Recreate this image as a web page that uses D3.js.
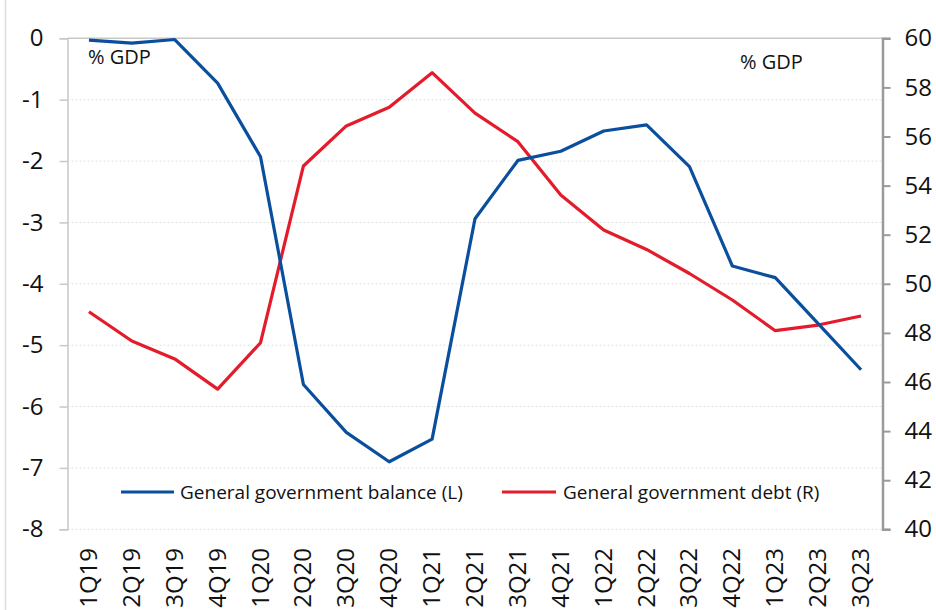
<!DOCTYPE html>
<html>
<head>
<meta charset="utf-8">
<script src="https://cdn.jsdelivr.net/npm/d3@7"></script>
<style>
  html, body { margin: 0; padding: 0; background: #fff; }
  svg { display: block; }
  text { font-family: "Open Sans", "Noto Sans", sans-serif; fill: #111; }
</style>
</head>
<body>
<svg id="chart" width="936" height="610"></svg>
<script>
const categories = ["1Q19","2Q19","3Q19","4Q19","1Q20","2Q20","3Q20","4Q20","1Q21","2Q21","3Q21","4Q21","1Q22","2Q22","3Q22","4Q22","1Q23","2Q23","3Q23"];
const balance = [-0.03,-0.08,-0.02,-0.73,-1.93,-5.64,-6.42,-6.90,-6.53,-2.94,-1.99,-1.84,-1.51,-1.41,-2.09,-3.71,-3.90,-4.65,-5.40];
const debt = [48.86,47.67,46.94,45.71,47.60,54.80,56.43,57.19,58.60,56.95,55.79,53.62,52.19,51.40,50.42,49.34,48.09,48.32,48.69];
const leftTicks = [0,-1,-2,-3,-4,-5,-6,-7,-8];
const rightTicks = [60,58,56,54,52,50,48,46,44,42,40];
const seriesNames = ["General government balance (L)", "General government debt (R)"];
const unitLabel = "% GDP";

const svg = d3.select("#chart");
const L = 67.5, R = 882.5, T = 38.3, B = 529.3;

const x = d3.scaleBand().domain(categories).range([L, R]).padding(0);
const yL = d3.scaleLinear().domain([-8, 0]).range([B, T]);
const yR = d3.scaleLinear().domain([40, 60]).range([B, T]);
const xc = d => x(d) + x.bandwidth() / 2;

// outer frame left edge
svg.append("line").attr("x1", 5.5).attr("x2", 5.5).attr("y1", 0).attr("y2", 610)
  .attr("stroke", "#dcdcdc").attr("stroke-width", 1.5);

// gridlines (dotted)
svg.append("g").selectAll("line").data(leftTicks.filter(d => d !== 0)).join("line")
  .attr("x1", L).attr("x2", R)
  .attr("y1", d => yL(d)).attr("y2", d => yL(d))
  .attr("stroke", "#e2e2e2").attr("stroke-width", 1).attr("stroke-dasharray", "2,2");
// top solid line
svg.append("line").attr("x1", L).attr("x2", R).attr("y1", yL(0)).attr("y2", yL(0))
  .attr("stroke", "#c8c8c8").attr("stroke-width", 1.5);

// left axis
const gL = svg.append("g").attr("transform", `translate(${L},0)`)
  .call(d3.axisLeft(yL).tickValues(leftTicks).tickSize(8).tickPadding(16).tickFormat(d => d === 0 ? "0" : "-" + Math.abs(d)));
gL.select(".domain").attr("stroke", "#c8c8c8").attr("stroke-width", 1.5);
gL.selectAll(".tick line").attr("stroke", "#c8c8c8").attr("stroke-width", 1.5);
gL.selectAll(".tick text").style("font-size", "24px").attr("fill", "#111")
  .style("font-family", "'Open Sans', sans-serif");

// right axis
const gR = svg.append("g").attr("transform", `translate(${R},0)`)
  .call(d3.axisRight(yR).tickValues(rightTicks).tickSize(8).tickPadding(14).tickFormat(d3.format("d")));
gR.select(".domain").attr("stroke", "#9a9a9a").attr("stroke-width", 2.5);
gR.selectAll(".tick line").attr("stroke", "#9a9a9a").attr("stroke-width", 2);
gR.selectAll(".tick text").style("font-size", "24px").attr("fill", "#111")
  .style("font-family", "'Open Sans', sans-serif");

// x labels rotated
svg.append("g").selectAll("text").data(categories).join("text")
  .attr("transform", d => `translate(${xc(d) + 8},${548}) rotate(-90)`)
  .attr("text-anchor", "end")
  .style("font-size", "24px")
  .text(d => d);

// lines
const lineB = d3.line().x((d, i) => xc(categories[i])).y(d => yL(d));
const lineD = d3.line().x((d, i) => xc(categories[i])).y(d => yR(d));
svg.append("path").datum(debt).attr("d", lineD).attr("fill", "none")
  .attr("stroke", "#e31b2b").attr("stroke-width", 3.2).attr("stroke-linejoin", "round");
svg.append("path").datum(balance).attr("d", lineB).attr("fill", "none")
  .attr("stroke", "#0a4f9e").attr("stroke-width", 3.2).attr("stroke-linejoin", "round");

// unit labels
svg.append("text").attr("x", 88).attr("y", 64).style("font-size", "20px").text(unitLabel);
svg.append("text").attr("x", 740).attr("y", 69).style("font-size", "20px").text(unitLabel);

// legend
const legend = [
  { name: seriesNames[0], color: "#0a4f9e", x1: 121, x2: 174, tx: 180 },
  { name: seriesNames[1], color: "#e31b2b", x1: 502, x2: 556, tx: 563 }
];
const lg = svg.append("g");
legend.forEach(l => {
  lg.append("line").attr("x1", l.x1).attr("x2", l.x2).attr("y1", 492).attr("y2", 492)
    .attr("stroke", l.color).attr("stroke-width", 3.2);
  lg.append("text").attr("x", l.tx).attr("y", 499).style("font-size", "19px").text(l.name);
});
</script>
</body>
</html>
